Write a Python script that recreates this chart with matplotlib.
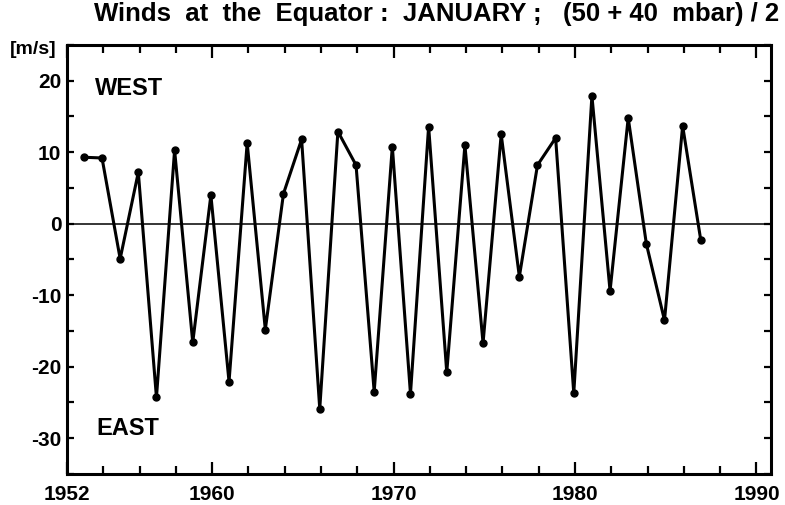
import matplotlib
matplotlib.use('Agg')
import matplotlib.pyplot as plt
from matplotlib.ticker import MultipleLocator

plt.rcParams['font.family'] = ['Liberation Sans', 'DejaVu Sans']
plt.rcParams['font.weight'] = 'bold'
plt.rcParams['axes.unicode_minus'] = False

# January mean zonal wind at the equator, (50+40 mbar)/2
years = [1953, 1954, 1955, 1956, 1957, 1958, 1959, 1960, 1961, 1962,
         1963, 1964, 1965, 1966, 1967, 1968, 1969, 1970, 1971, 1972,
         1973, 1974, 1975, 1976, 1977, 1978, 1979, 1980, 1981, 1982,
         1983, 1984, 1985, 1986, 1987]
wind = [9.3, 9.2, -4.9, 7.2, -24.3, 10.3, -16.6, 4.0, -22.1, 11.3,
        -14.8, 4.2, 11.8, -25.9, 12.9, 8.2, -23.5, 10.8, -23.8, 13.6,
        -20.8, 11.0, -16.7, 12.5, -7.4, 8.2, 12.0, -23.7, 17.9, -9.4,
        14.8, -2.8, -13.5, 13.7, -2.3]
xlabels = ['1952', '1960', '1970', '1980', '1990']
ylabels = [20, 10, 0, -10, -20, -30]

# January values sit just left of the year mark in the original
xpos = [y - 0.07 for y in years]

fig = plt.figure(figsize=(7.85, 5.05), dpi=100)
ax = fig.add_axes([67 / 785, 1 - 474 / 505, (771 - 67) / 785, (474 - 45) / 505])

ax.axhline(0, color='black', lw=1.1, zorder=1)
ax.plot(xpos, wind, color='black', lw=2.2, marker='o', ms=5, zorder=3)

ax.set_xlim(1952, 1990.8)
ax.set_ylim(-35, 25)

ax.set_xticks([int(s) for s in xlabels])
ax.set_xticklabels(xlabels)
ax.xaxis.set_minor_locator(MultipleLocator(2))
ax.set_yticks(ylabels)
ax.set_yticklabels([str(v) for v in ylabels])
ax.yaxis.set_minor_locator(MultipleLocator(5))

ax.tick_params(axis='x', which='major', direction='in', length=9, width=1.6,
               top=True, labelsize=15, pad=8)
ax.tick_params(axis='x', which='minor', direction='in', length=6, width=1.6, top=True)
ax.tick_params(axis='y', which='both', direction='in', length=5, width=1.6,
               right=True, labelsize=15, pad=4)
for lab in ax.get_xticklabels() + ax.get_yticklabels():
    lab.set_fontweight('bold')

for sp in ax.spines.values():
    sp.set_linewidth(2.2)

ax.text(1953.55, 18.9, 'WEST', fontsize=17, fontweight='bold', va='center', ha='left')
ax.text(1953.6, -28.7, 'EAST', fontsize=17, fontweight='bold', va='center', ha='left')

fig.text(33 / 785, 1 - 49 / 505, '[m/s]', fontsize=14, fontweight='bold',
         ha='center', va='center')
fig.text(437 / 785, 1 - 14 / 505,
         'Winds  at  the  Equator :  JANUARY ;   (50 + 40  mbar) / 2',
         fontsize=18.5, fontweight='bold', ha='center', va='center')

fig.savefig('out.png', dpi=100)
